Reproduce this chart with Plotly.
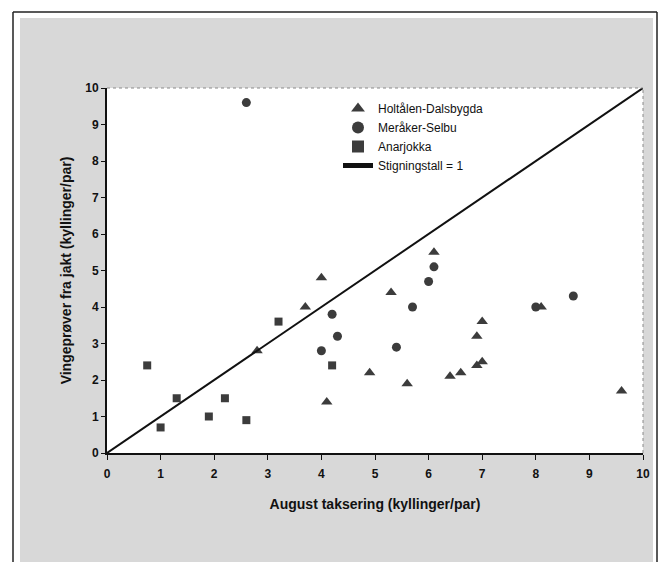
import plotly.graph_objects as go

# --- data ---
holtalen_x = [2.8, 3.7, 4.0, 5.3, 4.9, 4.1, 6.1, 5.6, 7.0, 6.9, 7.0, 6.9, 6.4, 6.6, 8.1, 9.6]
holtalen_y = [2.8, 4.0, 4.8, 4.4, 2.2, 1.4, 5.5, 1.9, 3.6, 3.2, 2.5, 2.4, 2.1, 2.2, 4.0, 1.7]

meraker_x = [2.6, 4.2, 4.3, 4.0, 5.4, 6.1, 6.0, 5.7, 8.0, 8.7]
meraker_y = [9.6, 3.8, 3.2, 2.8, 2.9, 5.1, 4.7, 4.0, 4.0, 4.3]

anarjokka_x = [0.75, 1.3, 1.0, 1.9, 2.2, 2.6, 3.2, 4.2]
anarjokka_y = [2.4, 1.5, 0.7, 1.0, 1.5, 0.9, 3.6, 2.4]

line_x = [0, 10]
line_y = [0, 10]

series_names = ["Holtålen-Dalsbygda", "Meråker-Selbu", "Anarjokka", "Stigningstall = 1"]
ticks = list(range(0, 11))

W, H = 661, 562
L, R, T, B = 107, 18, 88, 109
pw, ph = W - L - R, H - T - B

def px(x):
    return (x - L) / pw

def py(y):
    return (H - B - y) / ph

mk = "#3c3c3c"
font = "Liberation Sans, Arial, sans-serif"
panel_gray = "#d8d8d8"

fig = go.Figure()
fig.add_trace(go.Scatter(x=holtalen_x, y=holtalen_y, mode="markers", name=series_names[0],
                         marker=dict(symbol="triangle-up", size=10, color=mk)))
fig.add_trace(go.Scatter(x=meraker_x, y=meraker_y, mode="markers", name=series_names[1],
                         marker=dict(symbol="circle", size=9, color=mk)))
fig.add_trace(go.Scatter(x=anarjokka_x, y=anarjokka_y, mode="markers", name=series_names[2],
                         marker=dict(symbol="square", size=8, color=mk)))
fig.add_trace(go.Scatter(x=line_x, y=line_y, mode="lines", name=series_names[3],
                         line=dict(color="#111111", width=2)))

def wrect(x0, x1, y0, y1):
    return dict(type="rect", xref="paper", yref="paper",
                x0=px(x0), x1=px(x1), y0=py(y1), y1=py(y0),
                line=dict(width=0), fillcolor="white", layer="below")

def bline(x0, x1, y0, y1):
    return dict(type="line", xref="paper", yref="paper",
                x0=px(x0), x1=px(x1), y0=py(y0), y1=py(y1),
                line=dict(color="#222222", width=1.5), layer="below")

shapes = [
    # white outside of frame
    wrect(-5, 13, -5, 570),
    wrect(-5, 670, -5, 12),
    wrect(657, 670, -5, 570),
    # white gap between frame line and gray panel
    wrect(13, 20, 12, 570),
    wrect(13, 657, 12, 18),
    wrect(653, 657, 12, 570),
    # frame lines
    bline(13, 13, 12, 570),
    bline(13, 657, 12, 12),
    bline(657, 657, 12, 570),
    # faint dotted top / right borders of plot area
    dict(type="line", xref="paper", yref="paper", x0=0, x1=1, y0=1, y1=1,
         line=dict(color="#8a8a8a", width=1, dash="dot")),
    dict(type="line", xref="paper", yref="paper", x0=1, x1=1, y0=0, y1=1,
         line=dict(color="#8a8a8a", width=1, dash="dot")),
]

fig.update_layout(
    width=W, height=H,
    margin=dict(l=L, r=R, t=T, b=B),
    paper_bgcolor=panel_gray,
    plot_bgcolor="white",
    font=dict(family=font, color="#111111"),
    shapes=shapes,
    showlegend=True,
    legend=dict(x=px(338), y=py(94), xanchor="left", yanchor="top",
                bgcolor="rgba(0,0,0,0)", font=dict(size=12, family=font),
                tracegroupgap=0, itemsizing="constant"),
)

fig.update_xaxes(range=[0, 10], tickvals=ticks, ticktext=[str(t) for t in ticks],
                 showgrid=False, zeroline=False, showline=True, linecolor="#111111", linewidth=2,
                 ticks="outside", ticklen=5, tickcolor="#111111", ticklabelstandoff=4,
                 tickfont=dict(size=12, family=font, weight="bold"),
                 title=dict(text="August taksering (kyllinger/par)", standoff=19,
                            font=dict(size=14, family=font, weight="bold")))
fig.update_yaxes(range=[0, 10], tickvals=ticks, ticktext=[str(t) for t in ticks],
                 showgrid=False, zeroline=False, showline=True, linecolor="#111111", linewidth=2,
                 ticks="outside", ticklen=4, tickcolor="#111111",
                 tickfont=dict(size=12, family=font, weight="bold"),
                 title=dict(text="Vingeprøver fra jakt (kyllinger/par)", standoff=10,
                            font=dict(size=14, family=font, weight="bold")))

fig.write_html("out.html")
